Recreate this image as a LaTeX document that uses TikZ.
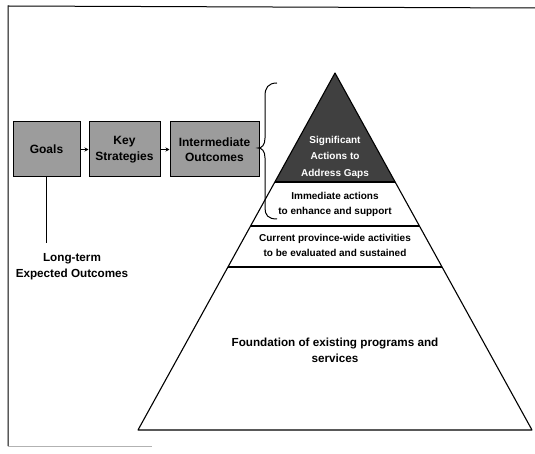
\documentclass[tikz,border=0pt]{standalone}
\usepackage{fontspec}
\setmainfont{Liberation Sans}
\usetikzlibrary{arrows.meta}
\begin{document}
\begin{tikzpicture}[x=1pt,y=-1pt,
  box/.style={draw=black, line width=1pt, fill=gray!78, minimum height=55pt, inner sep=1pt, font=\bfseries\fontsize{12}{15.5}\selectfont, align=center},
  lbl/.style={font=\bfseries\fontsize{10}{15}\selectfont, align=center, inner sep=0pt},
  toplbl/.style={font=\bfseries\fontsize{10}{16.5}\selectfont, align=center, inner sep=0pt, text=white},
  big/.style={font=\bfseries\fontsize{11.7}{16}\selectfont, align=center, inner sep=0pt},
  arr/.style={-{Stealth[length=4pt,width=4pt]}, line width=0.8pt},
  pyr/.style={line width=1.1pt, line join=round},
  framel/.style={line width=1pt}]
\useasboundingbox (0,0) rectangle (535,454);
% frame
\draw[framel] (8,446) -- (8,6) -- (535,8);
\draw[line width=0.8pt, gray!60] (8,446) -- (152,446);
% boxes
\node[box, minimum width=67pt] (goals) at (46.5,149.5) {Goals};
\node[box, minimum width=71pt] (key) at (124.5,149.5) {Key\\Strategies};
\node[box, minimum width=89pt] (inter) at (214.5,149.5) {Intermediate\\Outcomes};
\draw[arr] (goals) -- (key);
\draw[arr] (key) -- (inter);
% long-term
\node[big] (lt) at (72,267) {Long-term\\Expected Outcomes};
\coordinate (ltend) at (goals.south |- 0,243);
\draw[line width=1pt] (goals.south) -- (ltend);
% pyramid
\coordinate (apex) at (335,73);
\coordinate (bl) at (138,430);
\coordinate (br) at (532,430);
\coordinate (l1) at (274.9,182);
\coordinate (r1) at (395.1,182);
\coordinate (l2) at (250.6,226);
\coordinate (r2) at (419.4,226);
\coordinate (l3) at (227.9,267);
\coordinate (r3) at (442.1,267);
\fill[black!75] (apex) -- (l1) -- (r1) -- cycle;
\draw[pyr] (apex) -- (bl) -- (br) -- cycle;
\draw[pyr] (l1) -- (r1);
\draw[pyr] (l2) -- (r2);
\draw[pyr] (l3) -- (r3);
\node[toplbl] (sig) at (335,157) {Significant\\Actions to\\Address Gaps};
\node[lbl] (imm) at (335,204) {Immediate actions\\to enhance and support};
\node[lbl] (cur) at (335,245.5) {Current province-wide activities\\to be evaluated and sustained};
\node[big] (fnd) at (335,350) {Foundation of existing programs and\\services};
% brace
\coordinate (btip) at (258,148);
\draw[line width=1pt] (277,83) .. controls (268,83) and (265,88) .. (265,96) -- (265,138)
  .. controls (265,145) and (262,148) .. (btip)
  .. controls (262,148) and (265,151) .. (265,158) -- (265,208)
  .. controls (265,215) and (268,219) .. (277,219);
\end{tikzpicture}
\end{document}
